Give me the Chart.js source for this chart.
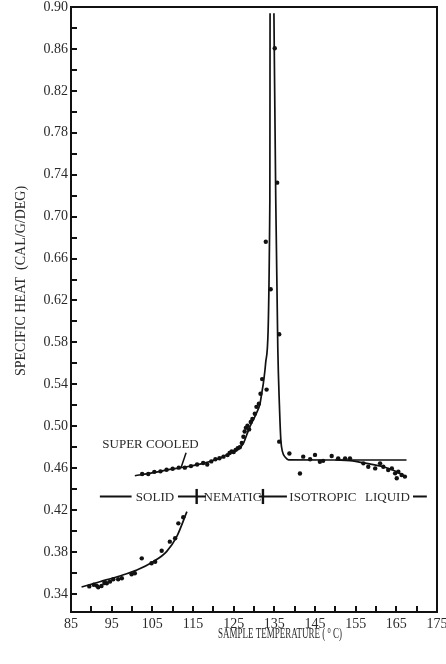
<!DOCTYPE html>
<html lang="en">
<head>
  <meta charset="UTF-8">
  <title>Specific Heat vs Sample Temperature</title>
  <script src="https://cdn.jsdelivr.net/npm/chart.js"></script>
  <style>
    html, body {
      margin: 0;
      padding: 0;
      background: #fff;
    }

    .chart-box {
      width: 446px;
      height: 664px;
      position: relative;
    }
  </style>
</head>
<body>
  <div class="chart-box">
    <canvas id="heatChart"></canvas>
  </div>

  <script>
    // Solid phase: fitted curve and measured points
    const solidCurveX = [87.6, 92.1, 97.0, 101.2, 105.2, 108.5, 111.0, 113.5];
    const solidCurveY = [0.3467, 0.3517, 0.3572, 0.3629, 0.3708, 0.3804, 0.3947, 0.4185];
    const solidPtsX = [89.5, 90.6, 91.3, 91.7, 92.5, 93.2, 93.8, 94.6, 95.4, 96.6, 97.5, 99.9, 100.7, 102.4, 104.8, 105.7, 107.3, 109.3, 110.6, 111.4, 112.6];
    const solidPtsY = [0.3472, 0.3488, 0.3480, 0.3464, 0.3476, 0.3505, 0.3502, 0.3518, 0.3540, 0.3540, 0.3550, 0.3588, 0.3597, 0.3740, 0.3693, 0.3708, 0.3813, 0.3899, 0.3931, 0.4074, 0.4132];

    // Super cooled branch running into the left side of the peak
    const coolCurveX = [100.7, 105.2, 109.3, 113.5, 117.5, 120.8, 124.1, 126.1, 127.4, 128.2, 129.0, 129.8, 130.6, 131.5, 131.9, 132.3, 132.7, 132.95, 133.9, 133.95];
    const coolCurveY = [0.4528, 0.4557, 0.4589, 0.4614, 0.4646, 0.4685, 0.4742, 0.4780, 0.4837, 0.4917, 0.4996, 0.5060, 0.5124, 0.5219, 0.5315, 0.5410, 0.5537, 0.5633, 0.716, 0.894];

    // Right side of the peak dropping onto the isotropic level
    const peakDownX = [134.9, 135.35, 135.85, 136.25, 136.6, 137.0, 137.7, 138.5, 150.0, 167.5];
    const peakDownY = [0.894, 0.716, 0.575, 0.520, 0.487, 0.4758, 0.4704, 0.468, 0.4678, 0.4678];

    // Isotropic liquid curve bending away from the flat line
    const isoDropX = [150.0, 153.6, 157.7, 161.8, 165.1, 167.5];
    const isoDropY = [0.4678, 0.4672, 0.4646, 0.4614, 0.4567, 0.4513];

    // Measured points: super cooled, peak and isotropic liquid
    const meltPtsX = [102.5, 104.0, 105.5, 107.0, 108.5, 110.0, 111.5, 113.0, 114.5, 116.0, 117.5, 118.5, 119.5, 120.5, 121.5, 122.5, 123.5, 124.0, 124.5, 125.0, 125.5, 126.0, 126.5, 127.0, 127.4, 127.7, 128.0, 128.4, 128.8, 129.2, 129.6, 130.2, 130.6, 131.2, 131.6, 132.0, 133.1,
                      132.9, 134.1, 135.1, 135.7, 136.2, 136.2, 138.7,
                      141.3, 142.1, 143.8, 145.0, 146.2, 147.0, 149.1, 150.7, 152.4, 153.6, 156.9, 158.1, 159.8, 161.0, 161.8, 163.0, 163.9, 164.7, 165.1, 165.5, 166.3, 167.1];
    const meltPtsY = [0.4545, 0.4545, 0.4565, 0.4570, 0.4585, 0.4595, 0.4605, 0.4605, 0.4620, 0.4635, 0.4650, 0.4635, 0.4665, 0.4685, 0.4695, 0.4710, 0.4725, 0.4745, 0.4760, 0.4755, 0.4775, 0.4790, 0.4800, 0.4840, 0.4900, 0.4950, 0.4985, 0.5005, 0.4970, 0.5040, 0.5070, 0.5120, 0.5185, 0.5215, 0.5310, 0.5450, 0.5350,
                      0.676, 0.6307, 0.8606, 0.7324, 0.5878, 0.4853, 0.4740,
                      0.4550, 0.4710, 0.4685, 0.4727, 0.4662, 0.4670, 0.4716, 0.4694, 0.4694, 0.4694, 0.4646, 0.4614, 0.4598, 0.4646, 0.4614, 0.4583, 0.4598, 0.4551, 0.4504, 0.4567, 0.4535, 0.4520];

    // "SUPER COOLED" label and its pointer
    const coolLabel = 'SUPER COOLED';
    const coolLabelX = 104.55;
    const coolLabelY = 0.4793;
    const pointerX = [113.3, 112.05];
    const pointerY = [0.4748, 0.4605];

    // Phase band along the middle of the plot
    const phaseY = 0.433;
    const phaseSegStart = [92.1, 111.3, 131.2, 169.1];
    const phaseSegEnd = [99.9, 118.2, 138.1, 172.5];
    const phaseCrossX = [115.9, 132.2];
    const phaseCrossHalf = 0.0072;
    const phaseLabels = ['SOLID', 'NEMATIC', 'ISOTROPIC', 'LIQUID'];
    const phaseLabelX = [105.65, 124.7, 146.95, 162.8];
    const phaseLabelY = 0.4285;

    // Axes
    const xTickValues = [85, 90, 95, 100, 105, 110, 115, 120, 125, 130, 135, 140, 145, 150, 155, 160, 165, 170, 175];
    const xTickLabels = ['85', '', '95', '', '105', '', '115', '', '125', '', '135', '', '145', '', '155', '', '165', '', '175'];
    const yTickValues = [0.34, 0.36, 0.38, 0.40, 0.42, 0.44, 0.46, 0.48, 0.50, 0.52, 0.54, 0.56, 0.58, 0.60, 0.62, 0.64, 0.66, 0.68, 0.70, 0.72, 0.74, 0.76, 0.78, 0.80, 0.82, 0.84, 0.86, 0.88, 0.90];
    const yTickLabels = ['0.34', '', '0.38', '', '0.42', '', '0.46', '', '0.50', '', '0.54', '', '0.58', '', '0.62', '', '0.66', '', '0.70', '', '0.74', '', '0.78', '', '0.82', '', '0.86', '', '0.90'];
    const xTitle = 'SAMPLE TEMPERATURE (';
    const yTitle = 'SPECIFIC HEAT  (CAL/G/DEG)';

    const INK = '#111';
    const TEXT = '#2a2a2a';
    const SERIF = '"Liberation Serif", "Times New Roman", serif';

    const pts = (xs, ys) => xs.map((x, i) => ({ x: x, y: ys[i] }));

    function curve(xs, ys) {
      return {
        data: pts(xs, ys),
        showLine: true,
        borderColor: INK,
        borderWidth: 1.7,
        pointRadius: 0,
        cubicInterpolationMode: 'monotone'
      };
    }

    function straight(xs, ys, width) {
      return {
        data: pts(xs, ys),
        showLine: true,
        borderColor: INK,
        borderWidth: width || 1.8,
        pointRadius: 0,
        tension: 0
      };
    }

    function dots(xs, ys) {
      return {
        data: pts(xs, ys),
        showLine: false,
        pointRadius: 2.2,
        pointBackgroundColor: INK,
        pointBorderWidth: 0
      };
    }

    const datasets = [
      dots(solidPtsX, solidPtsY),
      dots(meltPtsX, meltPtsY),
      curve(solidCurveX, solidCurveY),
      curve(coolCurveX, coolCurveY),
      curve(peakDownX, peakDownY),
      curve(isoDropX, isoDropY),
      straight(pointerX, pointerY, 1.5)
    ];
    phaseSegStart.forEach((x0, i) => {
      datasets.push(straight([x0, phaseSegEnd[i]], [phaseY, phaseY], 2));
    });
    phaseCrossX.forEach(x => {
      datasets.push(straight([x, x], [phaseY - phaseCrossHalf, phaseY + phaseCrossHalf], 2.4));
    });

    // Frame, inward ticks, titles and annotations
    const figurePlugin = {
      id: 'figure',
      afterDraw(chart) {
        const ctx = chart.ctx;
        const area = chart.chartArea;
        const xs = chart.scales.x;
        const ys = chart.scales.y;

        ctx.save();
        ctx.strokeStyle = INK;
        ctx.lineWidth = 2;
        ctx.strokeRect(area.left, area.top, area.right - area.left, area.bottom - area.top);

        ctx.lineWidth = 2;
        ctx.beginPath();
        xTickValues.forEach(v => {
          const px = Math.round(xs.getPixelForValue(v));
          ctx.moveTo(px, area.bottom);
          ctx.lineTo(px, area.bottom - 6);
        });
        yTickValues.forEach(v => {
          const py = Math.round(ys.getPixelForValue(v));
          ctx.moveTo(area.left, py);
          ctx.lineTo(area.left + 6, py);
        });
        ctx.stroke();

        ctx.fillStyle = TEXT;

        // y title, rotated
        ctx.save();
        ctx.translate(area.left - 46, area.top + 274);
        ctx.rotate(-Math.PI / 2);
        ctx.font = '14px ' + SERIF;
        ctx.textAlign = 'center';
        ctx.textBaseline = 'alphabetic';
        ctx.fillText(yTitle, 0, 0);
        ctx.restore();

        // x title with superscript degree mark, narrow like the original
        ctx.save();
        ctx.font = '14px ' + SERIF;
        const w1 = ctx.measureText(xTitle + ' ').width;
        ctx.font = '10px ' + SERIF;
        const w2 = ctx.measureText('o').width;
        ctx.font = '14px ' + SERIF;
        const w3 = ctx.measureText(' C)').width;
        const squeeze = 124 / (w1 + w2 + w3);
        ctx.translate(area.left + 147, area.bottom + 26);
        ctx.scale(squeeze, 1);
        ctx.textAlign = 'left';
        ctx.textBaseline = 'alphabetic';
        ctx.fillText(xTitle + ' ', 0, 0);
        ctx.font = '10px ' + SERIF;
        ctx.fillText('o', w1, -5);
        ctx.font = '14px ' + SERIF;
        ctx.fillText(' C)', w1 + w2, 0);
        ctx.restore();

        // in-plot labels
        ctx.font = '13px ' + SERIF;
        ctx.textAlign = 'center';
        ctx.textBaseline = 'alphabetic';
        ctx.fillText(coolLabel, xs.getPixelForValue(coolLabelX), ys.getPixelForValue(coolLabelY));
        phaseLabels.forEach((t, i) => {
          ctx.fillText(t, xs.getPixelForValue(phaseLabelX[i]), ys.getPixelForValue(phaseLabelY));
        });
        ctx.restore();
      }
    };

    new Chart(document.getElementById('heatChart').getContext('2d'), {
      type: 'scatter',
      data: { datasets: datasets },
      options: {
        responsive: true,
        maintainAspectRatio: false,
        animation: false,
        layout: { padding: { top: 7, right: 9, bottom: 0, left: 0 } },
        plugins: {
          legend: { display: false },
          tooltip: { enabled: false }
        },
        scales: {
          x: {
            type: 'linear',
            position: 'bottom',
            min: 85,
            max: 175,
            grid: { display: false, drawTicks: false, tickLength: 0 },
            border: { display: false },
            afterBuildTicks: s => { s.ticks = xTickValues.map(v => ({ value: v })); },
            afterFit: s => { s.height = 52; s.paddingLeft = 0; s.paddingRight = 0; },
            ticks: {
              autoSkip: false,
              maxRotation: 0,
              padding: 4,
              color: TEXT,
              font: { family: SERIF, size: 14 },
              callback: (v, i) => xTickLabels[i]
            }
          },
          y: {
            type: 'linear',
            min: 0.3228,
            max: 0.90,
            grid: { display: false, drawTicks: false, tickLength: 0 },
            border: { display: false },
            afterBuildTicks: s => { s.ticks = yTickValues.map(v => ({ value: v })); },
            afterFit: s => { s.width = 71; s.paddingTop = 0; s.paddingBottom = 0; },
            ticks: {
              autoSkip: false,
              padding: 3,
              color: TEXT,
              font: { family: SERIF, size: 14 },
              callback: (v, i) => yTickLabels[i]
            }
          }
        }
      },
      plugins: [figurePlugin]
    });
  </script>
</body>
</html>
